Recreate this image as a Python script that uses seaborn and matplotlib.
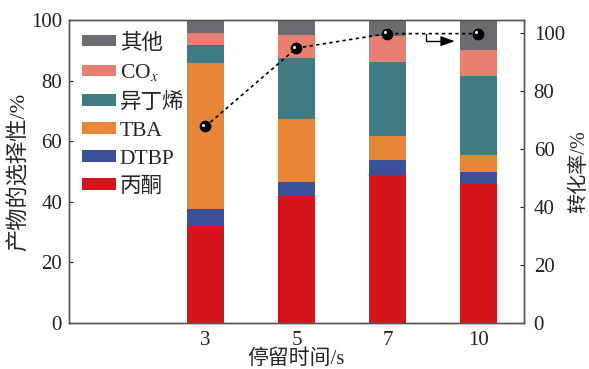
import matplotlib
matplotlib.use("Agg")
import matplotlib.pyplot as plt
import matplotlib.transforms as mtransforms
from matplotlib.patches import Patch
import numpy as np
import pandas as pd
import seaborn as sns

sns.set_theme(style="white")
plt.rcParams["font.family"] = ["Liberation Serif", "Noto Sans CJK SC", "DejaVu Sans"]
plt.rcParams["mathtext.fontset"] = "stix"

# Residence time categories (s)
times = ["3", "5", "7", "10"]

# Product selectivity (%) for each residence time
acetone = [32.0, 42.0, 48.8, 46.0]
dtbp = [5.7, 4.5, 4.9, 3.9]
tba = [48.1, 20.9, 8.0, 5.5]
isobutene = [5.9, 20.1, 24.4, 26.0]
cox = [4.1, 7.5, 8.7, 8.6]
others = [4.2, 5.0, 5.2, 10.0]

# Conversion (%)
conversion = [67.8, 94.8, 99.8, 99.8]

series_names = ["丙酮", "DTBP", "TBA", "异丁烯", "CO$_x$", "其他"]
series_vals = [acetone, dtbp, tba, isobutene, cox, others]
colors = ["#d5141b", "#3a5199", "#e88638", "#3f7b80", "#e77f72", "#6d6a70"]

df = pd.DataFrame({n: v for n, v in zip(series_names, series_vals)}, index=times)
cum = df.cumsum(axis=1)

fig = plt.figure(figsize=(5.89, 3.69), dpi=100)
ax = fig.add_axes([0.1171, 0.1247, 0.7725, 0.8211])

# Stacked bars: draw cumulative totals from the top layer down
for name, col in reversed(list(zip(series_names, colors))):
    sns.barplot(x=times, y=cum[name].values, color=col, width=0.4,
                saturation=1, ax=ax, edgecolor="none", linewidth=0)

ax.set_xlim(-1.5, 3.5)
ax.set_ylim(0, 100)
ax.set_yticks([0, 20, 40, 60, 80, 100])
ax.set_ylabel("产物的选择性/%", fontsize=16, labelpad=1)
ax.set_xlabel("停留时间/s", fontsize=15, labelpad=-1)
ax.tick_params(axis="both", direction="in", length=3, width=0.8,
               labelsize=15, colors="#222222", pad=5)
ax.tick_params(axis="x", pad=6)

for sp in ax.spines.values():
    sp.set_color("#555555")
    sp.set_linewidth(1.0)

# Legend, top layer first
handles = [Patch(facecolor=c, edgecolor="none", label=n)
           for n, c in reversed(list(zip(series_names, colors)))]
ax.legend(handles=handles, loc="upper left", frameon=False, fontsize=15.5,
          handlelength=1.6, handleheight=0.45, handletextpad=0.15,
          labelspacing=0.42, borderaxespad=0.2, bbox_to_anchor=(0.0, 1.0))

# Conversion on the secondary axis
ax2 = ax.twinx()
sns.pointplot(x=times, y=conversion, ax=ax2, color="black",
              linestyles=(0, (2, 2)), markers="o", markersize=7.5,
              linewidth=1.2, errorbar=None)
hl = mtransforms.ScaledTranslation(-1.5 / 72, 1.0 / 72, fig.dpi_scale_trans)
ax2.plot(range(len(times)), conversion, linestyle="none", marker="o",
         markersize=2.2, color="white", markeredgewidth=0,
         transform=ax2.transData + hl, zorder=5)
ax2.set_xlim(-1.5, 3.5)
ax2.set_ylim(0, 104.5)
ax2.set_yticks([0, 20, 40, 60, 80, 100])
ax2.set_ylabel("转化率/%", fontsize=14.5, labelpad=4)
ax2.tick_params(axis="y", direction="in", length=3, width=0.8,
                labelsize=15, colors="#222222", pad=7)
for sp in ax2.spines.values():
    sp.set_color("#555555")
    sp.set_linewidth(1.0)

# Arrow pointing to the conversion axis
ax2.plot([2.42, 2.42, 2.62], [99.8, 97.2, 97.2], color="black", lw=1.0)
ax2.annotate("", xy=(2.77, 97.2), xytext=(2.58, 97.2),
             arrowprops=dict(arrowstyle="-|>,head_length=0.7,head_width=0.25",
                             color="black", lw=1.0))

fig.savefig("out.png", dpi=100)
